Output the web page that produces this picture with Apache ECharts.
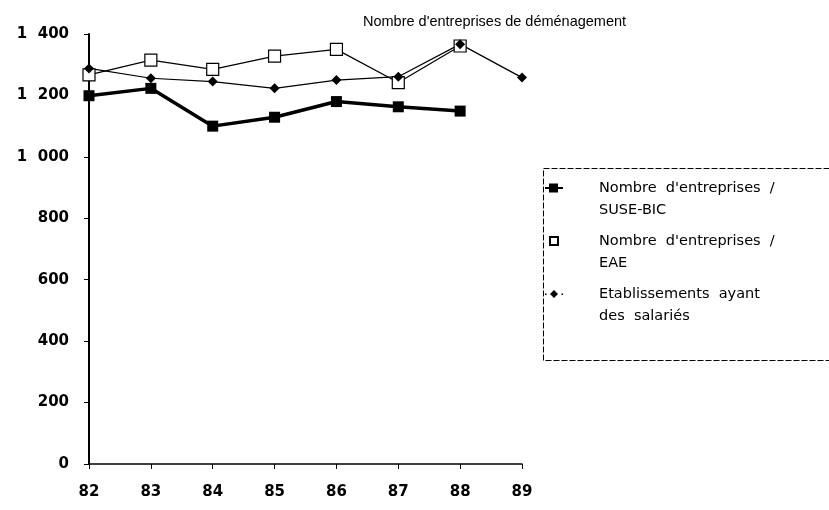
<!DOCTYPE html>
<html>
<head>
<meta charset="utf-8">
<script src="https://cdn.jsdelivr.net/npm/echarts@6/dist/echarts.min.js"></script>
<style>
  html, body { margin: 0; padding: 0; background: #fff; }
  #chart { width: 829px; height: 510px; }
</style>
</head>
<body>
<div id="chart"></div>
<script>
var years = ['82', '83', '84', '85', '86', '87', '88', '89']
var suseBic = [1199, 1223, 1100, 1129, 1180, 1163, 1149, null]
var eae = [1267, 1315, 1285, 1328, 1350, 1242, 1361, null]
var etablissements = [1288, 1256, 1245, 1223, 1250, 1261, 1367, 1258]

var seriesNames = [
  "Nombre  d'entreprises  /\nSUSE-BIC",
  "Nombre  d'entreprises  /\nEAE",
  'Etablissements  ayant\ndes  salariés'
]

var font = '"Liberation Sans", Arial, sans-serif'
var wide = '"DejaVu Sans", sans-serif'

// legend icons: drawn on a 20x44 box so the mark sits beside the first text line
var iconBox = 'M0 0 M20 44 '
var legendIcons = [
  'path://' + iconBox + 'M1 10 L5 10 L5 6.5 L14 6.5 L14 10 L19 10 L19 12 L14 12 L14 15.5 L5 15.5 L5 12 L1 12 Z',
  'path://' + iconBox + 'M6 7 L14 7 L14 15 L6 15 Z',
  'path://' + iconBox + 'M10 7 L14 11 L10 15 L6 11 Z M1 10.5 L2.5 10.5 L2.5 12 L1 12 Z M17.5 10.5 L19 10.5 L19 12 L17.5 12 Z'
]

var myChart = echarts.init(document.getElementById('chart'))

var option = {
  backgroundColor: '#fff',
  animation: false,
  title: {
    text: "Nombre d'entreprises de déménagement",
    left: 358,
    top: 9,
    textStyle: { fontFamily: font, fontSize: 14.5, fontWeight: 'normal', color: '#000' }
  },
  legend: {
    orient: 'vertical',
    left: 538,
    top: 172,
    itemGap: 8,
    itemWidth: 20,
    itemHeight: 44,
    data: seriesNames.map(function (n, i) { return { name: n, icon: legendIcons[i] } }),
    textStyle: { fontFamily: wide, fontSize: 14.5, color: '#000', lineHeight: 22, padding: [0, 0, 0, 30] }
  },
  graphic: [{
    type: 'rect',
    left: 541,
    top: 166,
    shape: { width: 300, height: 192 },
    style: { fill: 'none', stroke: '#000', lineWidth: 1, lineDash: [6, 2] }
  }],
  grid: { left: 89, right: 307, top: 34, bottom: 46 },
  xAxis: {
    type: 'category',
    data: years,
    boundaryGap: false,
    axisLine: { lineStyle: { color: '#000', width: 1.5 } },
    axisTick: { show: true, length: 5, lineStyle: { color: '#000' } },
    axisLabel: { fontFamily: wide, fontSize: 15, fontWeight: 'bold', color: '#000', margin: 21 }
  },
  yAxis: {
    type: 'value',
    min: 0,
    max: 1400,
    interval: 200,
    splitLine: { show: false },
    axisLine: { show: true, lineStyle: { color: '#000', width: 2 } },
    axisTick: { show: true, length: 5, lineStyle: { color: '#000' } },
    axisLabel: {
      fontFamily: wide, fontSize: 15, fontWeight: 'bold', color: '#000', margin: 20,
      formatter: function (v) {
        return v >= 1000 ? Math.floor(v / 1000) + '  ' + String(v % 1000).padStart(3, '0') : String(v)
      }
    }
  },
  series: [
    {
      name: seriesNames[0],
      type: 'line',
      data: suseBic,
      symbol: 'rect',
      symbolSize: 11,
      itemStyle: { color: '#000' },
      lineStyle: { color: '#000', width: 3.5 }
    },
    {
      name: seriesNames[1],
      type: 'line',
      data: eae,
      symbol: 'rect',
      symbolSize: 12,
      itemStyle: { color: '#fff', borderColor: '#000', borderWidth: 1.2 },
      lineStyle: { color: '#000', width: 1.2 }
    },
    {
      name: seriesNames[2],
      type: 'line',
      data: etablissements,
      symbol: 'diamond',
      symbolSize: 10,
      itemStyle: { color: '#000' },
      lineStyle: { color: '#000', width: 1.2 }
    }
  ]
}

myChart.setOption(option)
</script>
</body>
</html>
